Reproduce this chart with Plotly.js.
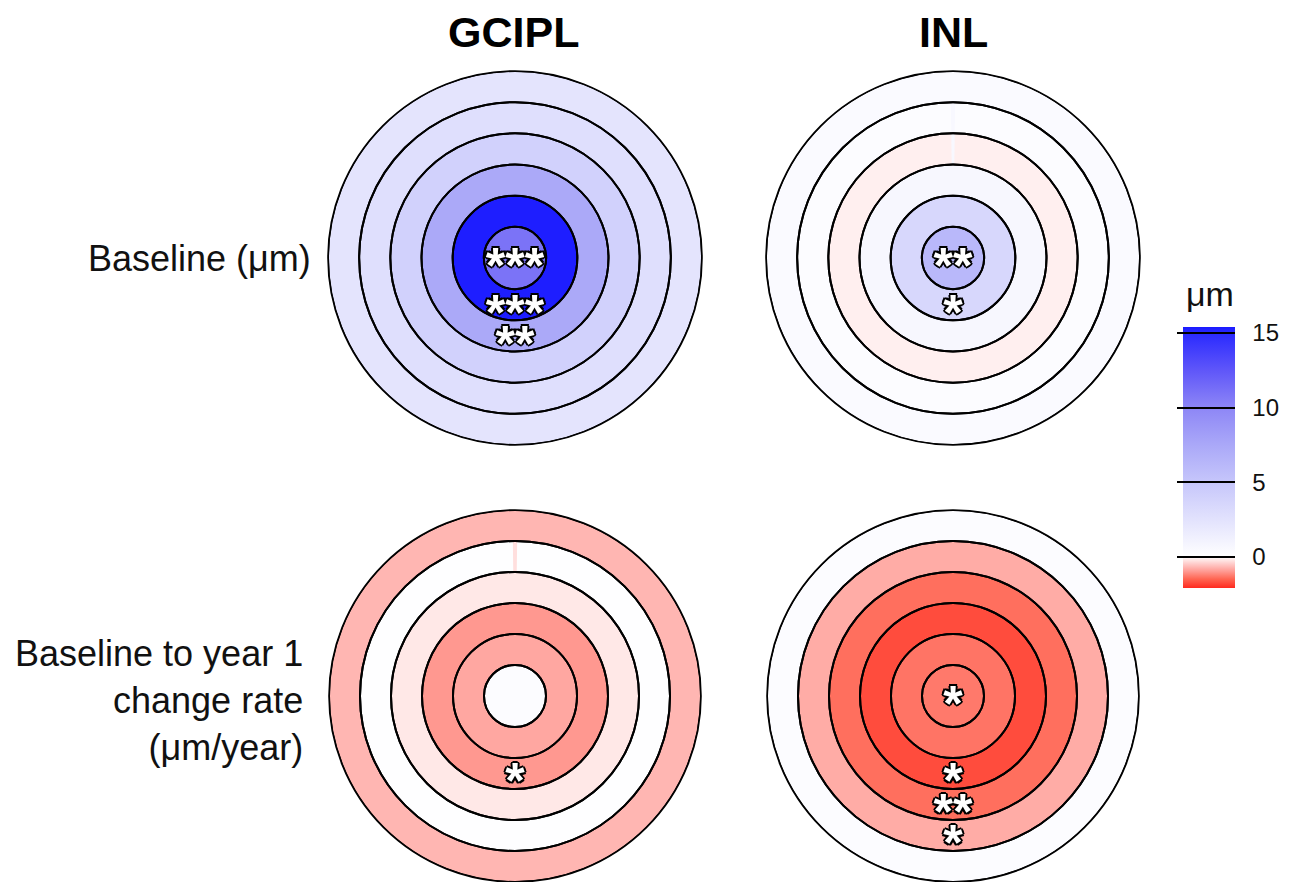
<!DOCTYPE html>
<html>
<head>
<meta charset="utf-8">
<script src="https://cdn.plot.ly/plotly-3.0.1.min.js"></script>
<style>
html,body{margin:0;padding:0;background:#ffffff;}
#chart{width:1291px;height:882px;}
</style>
</head>
<body>
<div id="chart"></div>
<script>
// ---------------- data ----------------
const rings = [1, 2, 3, 4, 5, 6];              // ring 1 = centre disk ... ring 6 = outermost annulus
const columnTitles = ['GCIPL', 'INL'];
const rowLabels = ['Baseline (μm)', 'Baseline to year 1<br>change rate<br>(μm/year)'];
const colorbarTitle = 'μm';

const gciplBaseline = [11.0, 15.3, 7.4, 4.0, 2.8, 2.3];
const inlBaseline   = [6.2, 3.5, 0.7, -0.15, 0.3, 0.4];
const gciplChange   = [0.3, -0.85, -1.0, -0.22, 0.1, -0.7];
const inlChange     = [-1.3, -1.35, -1.75, -1.4, -0.8, 0.3];

const gciplBaselineStars = ['***', '***', '**', '', '', ''];
const inlBaselineStars   = ['**', '*', '', '', '', ''];
const gciplChangeStars   = ['', '', '*', '', '', ''];
const inlChangeStars     = ['*', '', '*', '**', '*', ''];

// thin seam wedges visible at 12 o'clock
const gciplBaselineSeamRings = [];
const gciplBaselineSeamValues = [];
const inlBaselineSeamRings = [4, 5];
const inlBaselineSeamValues = [0.6, 0.6];
const gciplChangeSeamRings = [5];
const gciplChangeSeamValues = [-0.3];
const inlChangeSeamRings = [];
const inlChangeSeamValues = [];

const colorMin = -2.1;
const colorMax = 15.4;
const colorTicks = [0, 5, 10, 15];
const scaleValues = [-2.1, -1.5, -1.0, -0.5, 0, 2.5, 5, 7.5, 10, 12.5, 15, 15.4];
const scaleColors = ['#ff2a1f', '#ff6552', '#ff9890', '#ffcac8', '#ffffff', '#e2e2fd',
                     '#c6c6fb', '#aaa8f8', '#8d86f6', '#5f56f9', '#2a2aff', '#1a1aff'];

// ---------------- build ----------------
const colorscale = scaleValues.map((v, i) => [(v - colorMin) / (colorMax - colorMin), scaleColors[i]]);
const FONT = 'Liberation Sans, Arial, sans-serif';

const panels = [
  {sub: 'polar',  values: gciplBaseline, stars: gciplBaselineStars, seamR: gciplBaselineSeamRings, seamV: gciplBaselineSeamValues},
  {sub: 'polar2', values: inlBaseline,   stars: inlBaselineStars,   seamR: inlBaselineSeamRings,   seamV: inlBaselineSeamValues},
  {sub: 'polar3', values: gciplChange,   stars: gciplChangeStars,   seamR: gciplChangeSeamRings,   seamV: gciplChangeSeamValues},
  {sub: 'polar4', values: inlChange,     stars: inlChangeStars,     seamR: inlChangeSeamRings,     seamV: inlChangeSeamValues}
];

const starOffset = 0.4; // shifts the '*' glyph so that it sits centred on its point
const outline = '2px 0 0 #000, -2px 0 0 #000, 0 2px 0 #000, 0 -2px 0 #000, 1.5px 1.5px 0 #000, -1.5px 1.5px 0 #000, 1.5px -1.5px 0 #000, -1.5px -1.5px 0 #000';

const traces = [];
panels.forEach((p, idx) => {
  // ring fills
  traces.push({
    type: 'barpolar', subplot: p.sub,
    r: rings.map(() => 1), base: rings.map(k => k - 1),
    theta: rings.map(() => 0), width: rings.map(() => 360),
    marker: {
      color: p.values, colorscale: colorscale, cmin: colorMin, cmax: colorMax,
      line: {width: 0},
      showscale: idx === 0,
      colorbar: {
        x: 1183 / 1291, xanchor: 'left', xpad: 0,
        y: 1 - 457.5 / 882, yanchor: 'middle', ypad: 0,
        thickness: 52, thicknessmode: 'pixels',
        len: 261, lenmode: 'pixels',
        outlinewidth: 0,
        tickmode: 'array', tickvals: colorTicks,
        ticktext: colorTicks.map(v => '\u2002' + v),
        ticks: 'inside', ticklen: 58, tickwidth: 2, tickcolor: '#000000',
        tickfont: {family: FONT, size: 24, color: '#111111'}
      }
    },
    hoverinfo: 'skip'
  });
  // seam wedges
  if (p.seamR.length) {
    traces.push({
      type: 'barpolar', subplot: p.sub,
      r: p.seamR.map(() => 1), base: p.seamR.map(k => k - 1),
      theta: p.seamR.map(() => 0), width: p.seamR.map(() => 1.6),
      marker: {color: p.seamV, colorscale: colorscale, cmin: colorMin, cmax: colorMax, showscale: false, line: {width: 0}},
      hoverinfo: 'skip'
    });
  }
  // ring outlines
  traces.push({
    type: 'barpolar', subplot: p.sub,
    r: rings.map(() => 1), base: rings.map(k => k - 1),
    theta: rings.map(() => 0), width: rings.map(() => 360),
    marker: {color: 'rgba(0,0,0,0)', line: {color: '#000000', width: 2}},
    hoverinfo: 'skip'
  });
  // significance asterisks
  const idxs = rings.filter((k, i) => p.stars[i] !== '');
  traces.push({
    type: 'scatterpolar', subplot: p.sub, mode: 'text',
    r: idxs.map(k => (k === 1 ? 0 : k - 0.5) + starOffset),
    theta: idxs.map(() => 180),
    text: idxs.map(k => p.stars[k - 1]),
    textposition: 'middle center',
    textfont: {family: FONT, size: 50, color: '#ffffff', weight: 'bold', shadow: outline},
    cliponaxis: false,
    hoverinfo: 'skip'
  });
});

function polarLayout(x0, x1, y0, y1) {
  return {
    domain: {x: [x0 / 1291, x1 / 1291], y: [1 - y1 / 882, 1 - y0 / 882]},
    bgcolor: 'rgba(0,0,0,0)',
    barmode: 'overlay', bargap: 0,
    radialaxis: {range: [0, 6], visible: false},
    angularaxis: {
      rotation: 90, direction: 'counterclockwise',
      showline: true, linecolor: '#000000', linewidth: 1.6,
      showgrid: false, ticks: '', showticklabels: false
    }
  };
}

const annotations = [
  {text: columnTitles[0], x: 513 / 1291, y: 1 - 32 / 882, xref: 'paper', yref: 'paper', showarrow: false,
   xanchor: 'center', yanchor: 'middle', font: {family: FONT, size: 43, color: '#000', weight: 'bold'}},
  {text: columnTitles[1], x: 953 / 1291, y: 1 - 32 / 882, xref: 'paper', yref: 'paper', showarrow: false,
   xanchor: 'center', yanchor: 'middle', font: {family: FONT, size: 43, color: '#000', weight: 'bold'}},
  {text: rowLabels[0], x: 313 / 1291, y: 1 - 258 / 882, xref: 'paper', yref: 'paper', showarrow: false,
   xanchor: 'right', yanchor: 'middle', align: 'right', font: {family: FONT, size: 36, color: '#111'}},
  {text: rowLabels[1], x: 305 / 1291, y: 1 - 700 / 882, xref: 'paper', yref: 'paper', showarrow: false,
   xanchor: 'right', yanchor: 'middle', align: 'right', font: {family: FONT, size: 36, color: '#111'}},
  {text: colorbarTitle, x: 1210 / 1291, y: 1 - 294 / 882, xref: 'paper', yref: 'paper', showarrow: false,
   xanchor: 'center', yanchor: 'middle', font: {family: FONT, size: 34, color: '#111'}}
];

const layout = {
  width: 1291, height: 882,
  margin: {l: 0, r: 0, t: 0, b: 0, autoexpand: false},
  paper_bgcolor: '#ffffff',
  showlegend: false,
  font: {family: FONT},
  polar:  polarLayout(328, 702, 71, 445),
  polar2: polarLayout(766, 1140, 71, 445),
  polar3: polarLayout(328, 702, 510, 882),
  polar4: polarLayout(766, 1140, 510, 882),
  annotations: annotations
};

Plotly.newPlot('chart', traces, layout, {displayModeBar: false, staticPlot: true});
</script>
</body>
</html>
